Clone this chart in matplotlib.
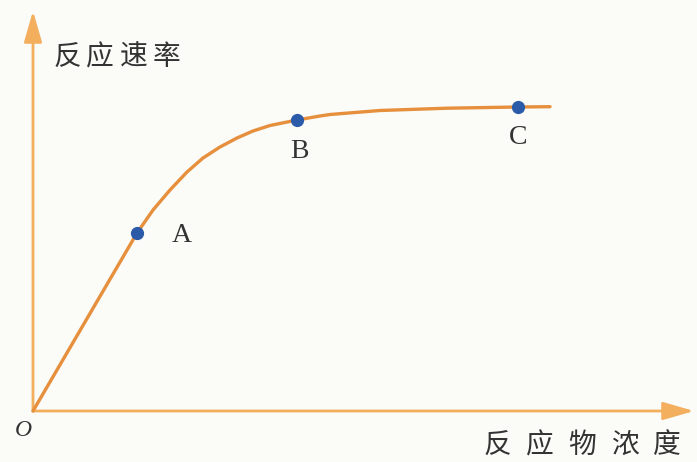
import numpy as np
import matplotlib.pyplot as plt

plt.rcParams['font.family'] = ['Noto Sans CJK SC', 'DejaVu Sans']

# curve (pixel offsets from origin)
conc = [0, 104, 120, 137, 154, 170, 187, 204, 220, 237, 264, 287, 297, 347, 414, 485, 517]
rate = [0, 178, 201, 221, 239, 253, 264, 273, 280, 285.5, 291, 295, 296.5, 300.5, 302.8, 304, 304.3]

# marked points
pt_names = ['A', 'B', 'C']
pt_x = [104, 264, 485]
pt_y = [178, 291, 304]

y_label = '反应速率'
x_label = '反应物浓度'

curve_col = '#E68F3C'
axis_col = '#F3AE5E'
dot_col = '#2B5BA8'
text_col = '#333333'

fig = plt.figure(figsize=(6.97, 4.62), dpi=100)
fig.patch.set_facecolor('#FBFBF8')
ax = fig.add_axes([0, 0, 1, 1])
ax.set_facecolor('#FBFBF8')
ax.set_xlim(-33, 664)
ax.set_ylim(-51, 411)
ax.axis('off')

# axes with arrows
arrow = dict(arrowstyle='-|>,head_length=1.9,head_width=0.55', color=axis_col, lw=2.0,
             shrinkA=0, shrinkB=0)
ax.annotate('', xy=(661, 0), xytext=(0, 0), arrowprops=arrow)
ax.annotate('', xy=(0, 400), xytext=(0, 0), arrowprops=arrow)

ax.plot(conc, rate, color=curve_col, lw=2.4, solid_capstyle='round',
        solid_joinstyle='round', zorder=3)
ax.plot(pt_x, pt_y, 'o', color=dot_col, ms=8.5, zorder=4)

# point labels
offsets = {'A': (45, -3), 'B': (2, -32), 'C': (0, -31)}
for n, x, y in zip(pt_names, pt_x, pt_y):
    dx, dy = offsets[n]
    ax.text(x + dx, y + dy, n, family='Liberation Serif', fontsize=20,
            color=text_col, ha='center', va='center')

# axis titles, spaced out character by character like the original
for i, ch in enumerate(y_label):
    ax.text(34 + 33.3 * i, 354, ch, fontsize=20, color=text_col, ha='center', va='center')
for i, ch in enumerate(x_label):
    ax.text(464 + 42.5 * i, -34, ch, fontsize=20, color=text_col, ha='center', va='center')

ax.text(-10, -19, 'O', family='Liberation Serif', style='italic', fontsize=17,
        color=text_col, ha='center', va='center')

fig.savefig('out.png', dpi=100, facecolor=fig.get_facecolor())
